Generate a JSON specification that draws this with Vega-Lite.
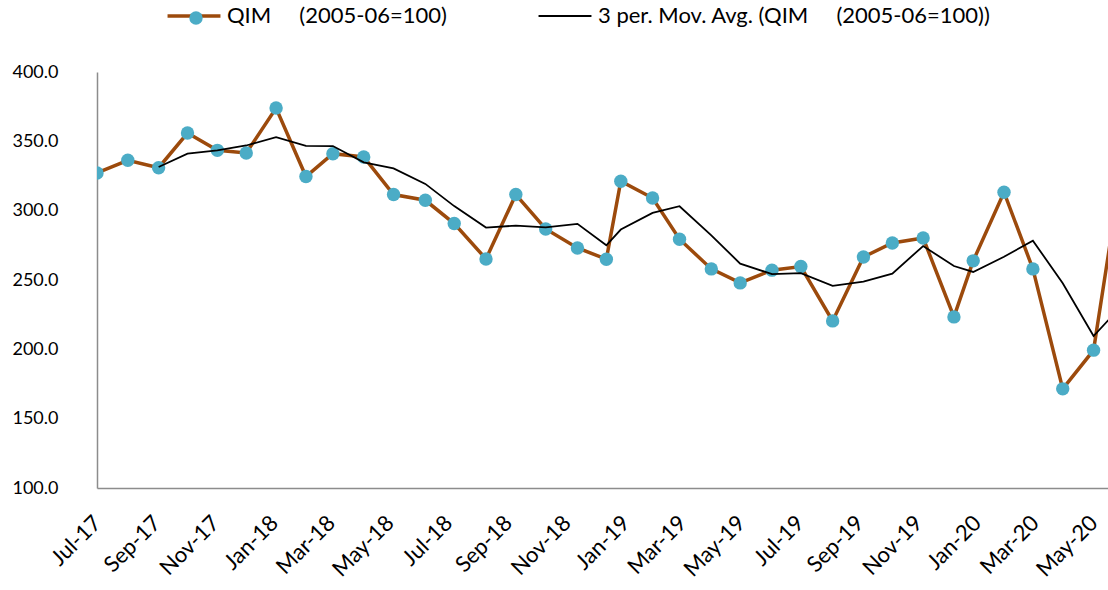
{
  "$schema": "https://vega.github.io/schema/vega-lite/v6.json",
  "width": 1011,
  "height": 416,
  "autosize": {"type": "none"},
  "padding": {"left": 97, "top": 72, "right": 0, "bottom": 102},
  "background": "white",
  "config": {"view": {"stroke": null}, "font": "Lato"},
  "data": {
    "values": [
      {"month": "Jul-17", "date": "2017-07-01", "qim": 327.2, "ma": null},
      {"month": "Aug-17", "date": "2017-08-02", "qim": 336.3, "ma": null},
      {"month": "Sep-17", "date": "2017-09-03", "qim": 331.0, "ma": 331.5},
      {"month": "Oct-17", "date": "2017-10-03", "qim": 356.0, "ma": 341.1},
      {"month": "Nov-17", "date": "2017-11-03", "qim": 343.5, "ma": 343.5},
      {"month": "Dec-17", "date": "2017-12-03", "qim": 341.6, "ma": 347.0},
      {"month": "Jan-18", "date": "2018-01-03", "qim": 374.0, "ma": 353.0},
      {"month": "Feb-18", "date": "2018-02-03", "qim": 324.6, "ma": 346.7},
      {"month": "Mar-18", "date": "2018-03-03", "qim": 341.1, "ma": 346.6},
      {"month": "Apr-18", "date": "2018-04-04", "qim": 338.7, "ma": 334.8},
      {"month": "May-18", "date": "2018-05-05", "qim": 311.6, "ma": 330.5},
      {"month": "Jun-18", "date": "2018-06-07", "qim": 307.5, "ma": 319.3},
      {"month": "Jul-18", "date": "2018-07-07", "qim": 290.7, "ma": 303.3},
      {"month": "Aug-18", "date": "2018-08-09", "qim": 265.2, "ma": 287.8},
      {"month": "Sep-18", "date": "2018-09-09", "qim": 311.6, "ma": 289.2},
      {"month": "Oct-18", "date": "2018-10-10", "qim": 286.8, "ma": 287.9},
      {"month": "Nov-18", "date": "2018-11-12", "qim": 273.1, "ma": 290.5},
      {"month": "Dec-18", "date": "2018-12-12", "qim": 265.0, "ma": 275.0},
      {"month": "Jan-19", "date": "2018-12-27", "qim": 321.2, "ma": 286.4},
      {"month": "Feb-19", "date": "2019-01-29", "qim": 309.1, "ma": 298.4},
      {"month": "Mar-19", "date": "2019-02-26", "qim": 279.4, "ma": 303.2},
      {"month": "Apr-19", "date": "2019-03-31", "qim": 258.0, "ma": 282.2},
      {"month": "May-19", "date": "2019-04-30", "qim": 247.9, "ma": 261.8},
      {"month": "Jun-19", "date": "2019-06-02", "qim": 257.1, "ma": 254.3},
      {"month": "Jul-19", "date": "2019-07-02", "qim": 259.7, "ma": 254.9},
      {"month": "Aug-19", "date": "2019-08-04", "qim": 220.5, "ma": 245.8},
      {"month": "Sep-19", "date": "2019-09-05", "qim": 266.6, "ma": 248.9},
      {"month": "Oct-19", "date": "2019-10-05", "qim": 276.7, "ma": 254.6},
      {"month": "Nov-19", "date": "2019-11-06", "qim": 280.3, "ma": 274.5},
      {"month": "Dec-19", "date": "2019-12-08", "qim": 223.4, "ma": 260.1},
      {"month": "Jan-20", "date": "2019-12-28", "qim": 263.8, "ma": 255.8},
      {"month": "Feb-20", "date": "2020-01-29", "qim": 313.3, "ma": 266.8},
      {"month": "Mar-20", "date": "2020-02-28", "qim": 258.0, "ma": 278.4},
      {"month": "Apr-20", "date": "2020-03-30", "qim": 171.5, "ma": 247.6},
      {"month": "May-20", "date": "2020-05-01", "qim": 199.4, "ma": 209.6},
      {"month": "Jun-20", "date": "2020-05-27", "qim": 316.0, "ma": 229.0}
    ]
  },
  "encoding": {
    "x": {
      "field": "date",
      "type": "temporal",
      "scale": {
        "type": "utc",
        "domain": [
          {"year": 2017, "month": 7, "date": 1, "utc": true},
          {"year": 2020, "month": 5, "date": 16, "utc": true}
        ]
      },
      "axis": {
        "title": null,
        "grid": false,
        "ticks": false,
        "domainColor": "#8c8c8c",
        "domainWidth": 1.5,
        "labelAngle": -45,
        "labelAlign": "right",
        "labelBaseline": "middle",
        "labelPadding": 31,
        "labelFont": "Lato",
        "labelFontSize": 22,
        "labelColor": "#000000",
        "labelOverlap": false,
        "labelBound": false,
        "labelFlush": false,
        "values": [
          {"year": 2017, "month": 7, "date": 1, "utc": true},
          {"year": 2017, "month": 9, "date": 1, "utc": true},
          {"year": 2017, "month": 11, "date": 1, "utc": true},
          {"year": 2018, "month": 1, "date": 1, "utc": true},
          {"year": 2018, "month": 3, "date": 1, "utc": true},
          {"year": 2018, "month": 5, "date": 1, "utc": true},
          {"year": 2018, "month": 7, "date": 1, "utc": true},
          {"year": 2018, "month": 9, "date": 1, "utc": true},
          {"year": 2018, "month": 11, "date": 1, "utc": true},
          {"year": 2019, "month": 1, "date": 1, "utc": true},
          {"year": 2019, "month": 3, "date": 1, "utc": true},
          {"year": 2019, "month": 5, "date": 1, "utc": true},
          {"year": 2019, "month": 7, "date": 1, "utc": true},
          {"year": 2019, "month": 9, "date": 1, "utc": true},
          {"year": 2019, "month": 11, "date": 1, "utc": true},
          {"year": 2020, "month": 1, "date": 1, "utc": true},
          {"year": 2020, "month": 3, "date": 1, "utc": true},
          {"year": 2020, "month": 5, "date": 1, "utc": true}
        ],
        "labelExpr": "utcFormat(datum.value, '%b-%y')"
      }
    },
    "y": {
      "field": "qim",
      "type": "quantitative",
      "scale": {"domain": [100, 400], "nice": false, "zero": false},
      "axis": {
        "title": null,
        "grid": false,
        "ticks": false,
        "domainColor": "#8c8c8c",
        "domainWidth": 1.5,
        "values": [100, 150, 200, 250, 300, 350, 400],
        "format": ".1f",
        "labelFont": "Lato",
        "labelFontSize": 18,
        "labelColor": "#000000",
        "labelPadding": 39
      }
    }
  },
  "layer": [
    {
      "mark": {"type": "line", "strokeWidth": 3.5, "clip": true},
      "encoding": {
        "color": {
          "datum": "QIM\u00a0\u00a0\u00a0\u00a0\u00a0(2005-06=100)",
          "type": "nominal",
          "scale": {
            "domain": ["QIM\u00a0\u00a0\u00a0\u00a0\u00a0(2005-06=100)", "3 per. Mov. Avg. (QIM\u00a0\u00a0\u00a0\u00a0\u00a0(2005-06=100))"],
            "range": ["#9C4A0C", "#000000"]
          },
          "legend": {
            "orient": "none",
            "direction": "horizontal",
            "legendX": 86,
            "legendY": -67,
            "title": null,
            "symbolType": "M-2,0H2",
            "symbolSize": 700,
            "symbolStrokeWidth": 3.5,
            "labelFont": "Lato",
            "labelFontSize": 22,
            "labelColor": "#000000",
            "labelLimit": 800,
            "labelOffset": 22,
            "columnPadding": 87,
            "encode": {
              "symbols": {
                "update": {
                  "strokeWidth": {"signal": "datum.index === 0 ? 3.5 : 1.8"}
                }
              }
            }
          }
        }
      }
    },
    {
      "mark": {"type": "point", "filled": true, "size": 180, "opacity": 1, "strokeWidth": 0, "clip": true},
      "encoding": {
        "fill": {
          "datum": "QIM marker",
          "type": "nominal",
          "scale": {"domain": ["QIM marker"], "range": ["#4BACC6"]},
          "legend": {
            "orient": "none",
            "legendX": 92,
            "legendY": -61,
            "title": null,
            "symbolType": "circle",
            "symbolSize": 180,
            "symbolStrokeWidth": 0,
            "symbolOpacity": 1,
            "labelExpr": "''",
            "labelFontSize": 1
          }
        }
      }
    },
    {
      "mark": {"type": "line", "strokeWidth": 1.8, "clip": true},
      "encoding": {
        "y": {"field": "ma", "type": "quantitative"},
        "color": {"datum": "3 per. Mov. Avg. (QIM\u00a0\u00a0\u00a0\u00a0\u00a0(2005-06=100))", "type": "nominal"}
      }
    }
  ]
}
